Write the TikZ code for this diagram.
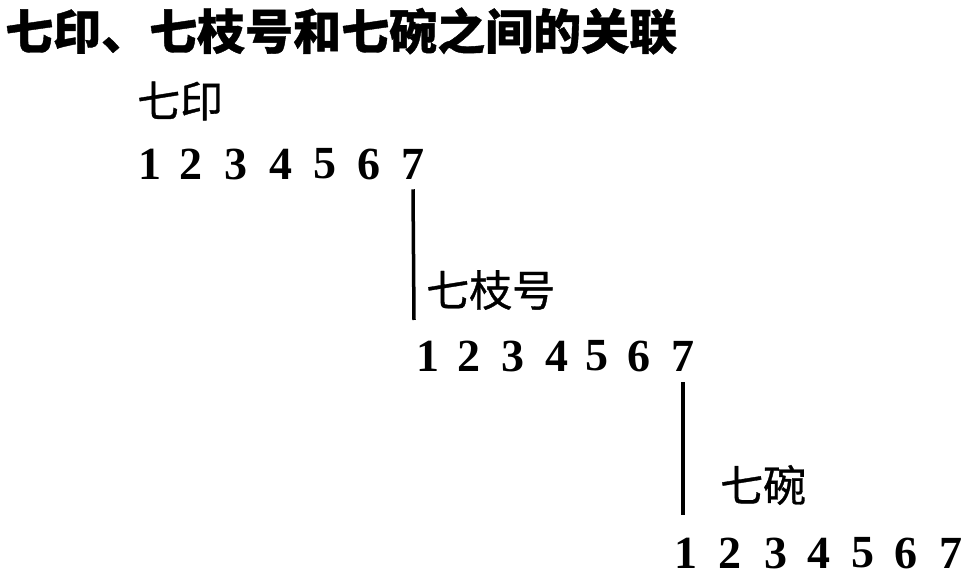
\documentclass[tikz,border=0pt]{standalone}
\usepackage{fontspec}
\setmainfont{Liberation Serif}
\newfontfamily\cjk[FakeBold=0.8]{Noto Sans CJK SC}
\usepackage{tikz}
\usetikzlibrary{positioning,calc}

\tikzset{
    heading/.style={anchor=west, inner sep=0pt, font=\cjk\bfseries\fontsize{48}{50}\selectfont},
    setname/.style={anchor=west, inner sep=0pt, font=\cjk\fontsize{43}{46}\selectfont},
    digit/.style={inner sep=0pt, font=\bfseries\fontsize{46}{50}\selectfont},
    link/.style={line width=3.5pt, black}
}

\begin{document}
\begin{tikzpicture}[x=1pt, y=-1pt]
    \useasboundingbox (0,0) rectangle (975,577);

    % Title
    \node[heading] (ttl) at (5,31) {七印、七枝号和七碗之间的关联};

    % Seven seals
    \node[setname] (seal) at (137,101) {七印};
    \foreach \i/\x in {1/150,2/191,3/236,4/281,5/325,6/369,7/413}
        \node[digit] (s\i) at (\x,164) {\i};

    % Seven trumpets, coming out of the seventh seal
    \coordinate (e1) at (414,320);
    \draw[link] ([yshift=-10pt]s7.south) -- (e1);
    \node[setname] (trumpet) at (426,290) {七枝号};
    \foreach \i/\x in {1/428,2/469,3/513,4/557,5/597,6/639,7/683}
        \node[digit] (t\i) at (\x,356) {\i};

    % Seven bowls, coming out of the seventh trumpet
    \coordinate (e2) at (683,515);
    \draw[link] ([yshift=-11pt]t7.south) -- (e2);
    \node[setname] (bowl) at (720,485) {七碗};
    \foreach \i/\x in {1/686,2/730,3/776,4/819,5/863,6/906,7/951}
        \node[digit] (b\i) at (\x,553) {\i};
\end{tikzpicture}
\end{document}
